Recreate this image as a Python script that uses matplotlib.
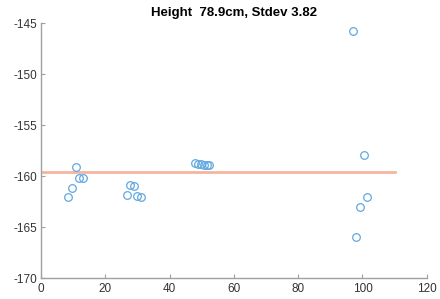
import numpy as np
import matplotlib
matplotlib.use("Agg")
import matplotlib.pyplot as plt

plt.rcParams["font.family"] = ["Liberation Sans", "DejaVu Sans"]
plt.rcParams["axes.unicode_minus"] = False

# measured points (x, height)
xs = [8.5, 9.6, 10.9, 11.7, 13.1,
      26.7, 27.8, 29.0, 29.8, 31.1,
      47.8, 48.8, 49.8, 50.7, 51.5, 52.3,
      97.1, 100.4, 101.5, 99.3, 98.1]
ys = [-162.0, -161.1, -159.1, -160.2, -160.2,
      -161.8, -160.8, -160.9, -161.9, -162.0,
      -158.7, -158.8, -158.8, -158.9, -158.9, -158.9,
      -145.8, -157.9, -162.0, -163.0, -165.9]
mean_level = -159.6
line_x = [0, 110]
title = "Height  78.9cm, Stdev 3.82"

fig = plt.figure(figsize=(4.4, 2.99), dpi=100)
ax = fig.add_axes([0.093, 0.069, 0.877, 0.853])

ax.plot(line_x, [mean_level, mean_level], color="#F4B5A0", lw=2.0, zorder=1)
ax.plot(xs, ys, "o", mfc="none", mec="#62A8E0", ms=5.5, mew=0.9, zorder=2)

ax.set_xlim(0, 120)
ax.set_ylim(-170, -145)
ax.set_xticks(np.arange(0, 121, 20))
ax.set_yticks(np.arange(-170, -144, 5))

for s in ["top", "right"]:
    ax.spines[s].set_visible(False)
for s in ["left", "bottom"]:
    ax.spines[s].set_color("#A0A0A0")
    ax.spines[s].set_linewidth(1.0)
ax.tick_params(direction="in", length=3, color="#A0A0A0", labelsize=8.5,
               labelcolor="#333333", pad=3)

ax.set_title(title, fontsize=9.5, fontweight="bold", pad=5)

fig.savefig("out.png", dpi=100)
